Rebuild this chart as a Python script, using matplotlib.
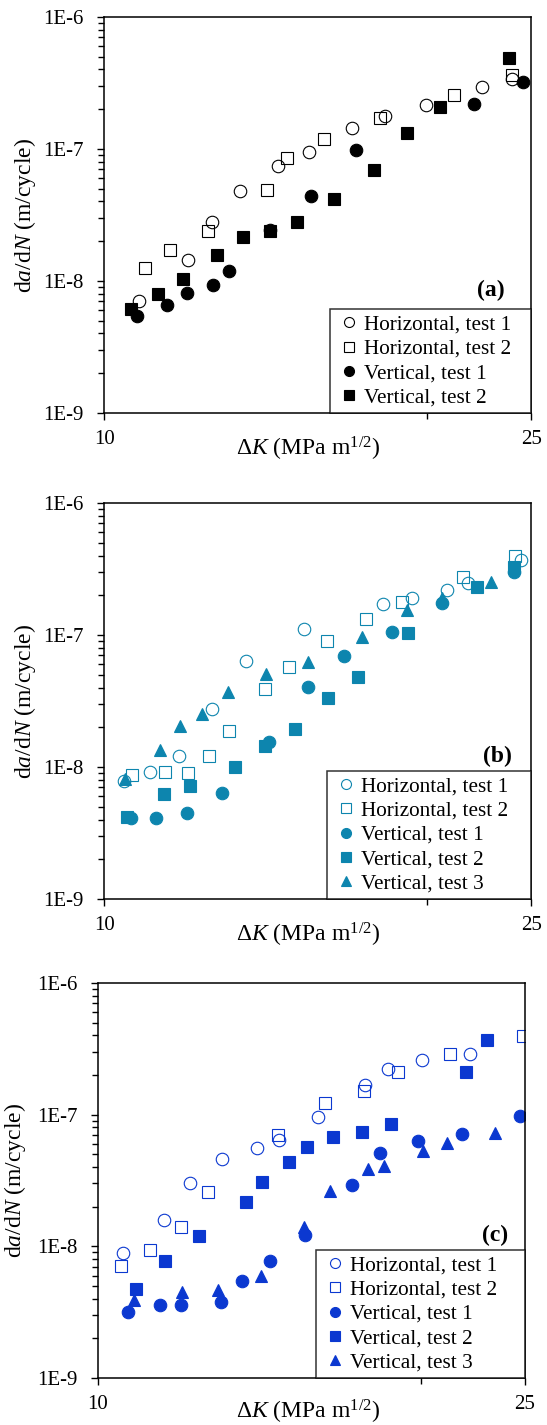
import matplotlib
matplotlib.use("Agg")
import matplotlib.pyplot as plt
from matplotlib.lines import Line2D
from matplotlib.ticker import FixedLocator, NullFormatter, LogLocator

plt.rcParams["font.family"] = ["Liberation Serif", "DejaVu Serif"]
plt.rcParams["mathtext.fontset"] = "custom"
plt.rcParams["mathtext.rm"] = "Liberation Serif"
plt.rcParams["mathtext.it"] = "Liberation Serif:italic"
plt.rcParams["mathtext.bf"] = "Liberation Serif:bold"

# Panel (a) - black
a_h1_dk = [10.76, 11.97, 12.59, 13.37, 14.52, 15.52, 17.00, 18.24, 19.94, 22.46, 23.96]
a_h1_rate = [7.1e-9, 1.43e-8, 2.82e-8, 4.77e-8, 7.38e-8, 9.47e-8, 1.45e-7, 1.77e-7, 2.16e-7, 2.95e-7, 3.37e-7]
a_h2_dk = [10.90, 11.50, 12.49, 14.17, 14.80, 16.03, 18.05, 21.19, 23.99]
a_h2_rate = [1.25e-8, 1.73e-8, 2.41e-8, 4.85e-8, 8.53e-8, 1.18e-7, 1.71e-7, 2.58e-7, 3.61e-7]
a_v1_dk = [10.72, 11.44, 11.93, 12.61, 13.07, 14.25, 15.59, 17.15, 22.08, 24.57]
a_v1_rate = [5.47e-9, 6.59e-9, 8.08e-9, 9.34e-9, 1.18e-8, 2.45e-8, 4.44e-8, 9.86e-8, 2.20e-7, 3.21e-7]
a_v2_dk = [10.58, 11.21, 11.84, 12.73, 13.46, 14.25, 15.13, 16.37, 17.83, 19.16, 20.53, 23.81]
a_v2_rate = [6.14e-9, 7.99e-9, 1.04e-8, 1.56e-8, 2.15e-8, 2.37e-8, 2.82e-8, 4.19e-8, 6.88e-8, 1.33e-7, 2.08e-7, 4.89e-7]

# Panel (b) - teal
b_h1_dk = [10.42, 11.02, 11.73, 12.59, 13.56, 15.33, 18.16, 19.33, 20.87, 21.80, 24.43]
b_h1_rate = [7.85e-9, 9.13e-9, 1.22e-8, 2.74e-8, 6.41e-8, 1.11e-7, 1.71e-7, 1.90e-7, 2.20e-7, 2.47e-7, 3.72e-7]
b_h2_dk = [10.60, 11.39, 11.97, 12.52, 13.05, 14.11, 14.85, 16.12, 17.51, 18.95, 21.60, 24.12]
b_h2_rate = [8.71e-9, 9.24e-9, 9.08e-9, 1.22e-8, 1.89e-8, 3.93e-8, 5.68e-8, 9.04e-8, 1.32e-7, 1.78e-7, 2.75e-7, 3.94e-7]
b_v1_dk = [10.58, 11.17, 11.94, 12.86, 14.22, 15.48, 16.71, 18.53, 20.62, 24.10]
b_v1_rate = [4.09e-9, 4.09e-9, 4.46e-9, 6.40e-9, 1.56e-8, 4.03e-8, 6.96e-8, 1.05e-7, 1.74e-7, 3.00e-7]
b_v2_dk = [10.50, 11.36, 12.02, 13.22, 14.11, 15.05, 16.17, 17.22, 19.19, 22.23, 24.06]
b_v2_rate = [4.16e-9, 6.25e-9, 7.19e-9, 9.96e-9, 1.45e-8, 1.95e-8, 3.36e-8, 4.85e-8, 1.03e-7, 2.31e-7, 3.27e-7]
b_v3_dk = [10.44, 11.27, 11.77, 12.33, 13.03, 14.14, 15.48, 17.37, 19.13, 20.65, 22.94]
b_v3_rate = [8.08e-9, 1.35e-8, 2.05e-8, 2.53e-8, 3.69e-8, 5.05e-8, 6.23e-8, 9.58e-8, 1.54e-7, 1.90e-7, 2.50e-7]

# Panel (c) - blue
c_h1_dk = [10.55, 11.53, 12.18, 13.05, 14.06, 14.73, 16.03, 17.74, 18.65, 20.03, 22.24]
c_h1_rate = [8.87e-9, 1.59e-8, 3.05e-8, 4.63e-8, 5.54e-8, 6.41e-8, 9.64e-8, 1.67e-7, 2.24e-7, 2.59e-7, 2.88e-7]
c_h2_dk = [10.50, 11.17, 11.94, 12.66, 14.71, 16.27, 17.71, 19.02, 21.28, 24.91]
c_h2_rate = [7.03e-9, 9.40e-9, 1.39e-8, 2.60e-8, 7.00e-8, 1.23e-7, 1.52e-7, 2.11e-7, 2.91e-7, 3.94e-7]
c_v1_dk = [10.66, 11.42, 11.95, 13.01, 13.62, 14.47, 15.59, 17.25, 18.32, 19.85, 21.85, 24.72]
c_v1_rate = [3.15e-9, 3.60e-9, 3.60e-9, 3.75e-9, 5.41e-9, 7.80e-9, 1.22e-8, 2.92e-8, 5.08e-8, 6.30e-8, 7.12e-8, 9.75e-8]
c_v2_dk = [10.84, 11.54, 12.43, 13.73, 14.23, 15.05, 15.66, 16.54, 17.62, 18.76, 22.01, 23.04]
c_v2_rate = [4.73e-9, 7.76e-9, 1.19e-8, 2.17e-8, 3.06e-8, 4.39e-8, 5.71e-8, 6.80e-8, 7.33e-8, 8.43e-8, 2.09e-7, 3.72e-7]
c_v3_dk = [10.80, 11.97, 12.95, 14.18, 15.56, 16.45, 17.83, 18.49, 20.07, 21.16, 23.46]
c_v3_rate = [3.93e-9, 4.46e-9, 4.68e-9, 5.90e-9, 1.40e-8, 2.65e-8, 3.84e-8, 4.07e-8, 5.29e-8, 6.05e-8, 7.20e-8]

labels = ["Horizontal, test 1", "Horizontal, test 2", "Vertical, test 1",
          "Vertical, test 2", "Vertical, test 3"]
markers = ["o", "s", "o", "s", "^"]
filled = [False, False, True, True, True]

FS = 15      # tick labels
LEG_FS = 15.3
LFS = 17     # axis labels
MS = 9

fig = plt.figure(figsize=(5.47, 14.25), dpi=100)


def draw_panel(rect, series, color, tag, tag_pos, leg_x, ylab_x, xlab_pos):
    ax = fig.add_axes(rect)
    for i, (dk, rate) in enumerate(series):
        ax.plot(dk, rate, ls="none", marker=markers[i], ms=MS,
                mfc=color if filled[i] else "none", mec=color, mew=0.8)
    ax.set_xscale("log")
    ax.set_yscale("log")
    ax.set_xlim(10, 25)
    ax.set_ylim(1e-9, 1e-6)
    ax.set_xticks([10, 25])
    ax.set_xticklabels(["10", "25"])
    ax.xaxis.set_minor_locator(FixedLocator([20]))
    ax.xaxis.set_minor_formatter(NullFormatter())
    ax.set_yticks([1e-9, 1e-8, 1e-7, 1e-6])
    ax.set_yticklabels(["1E-9", "1E-8", "1E-7", "1E-6"])
    ax.yaxis.set_minor_locator(LogLocator(base=10, subs=range(2, 10)))
    ax.yaxis.set_minor_formatter(NullFormatter())
    ax.tick_params(axis="both", which="both", direction="out", labelsize=FS,
                   width=1.0, color="black")
    ax.tick_params(axis="both", which="major", length=5)
    ax.tick_params(axis="both", which="minor", length=4)
    ax.tick_params(axis="x", pad=7)
    ax.tick_params(axis="y", pad=10)
    for sp in ax.spines.values():
        sp.set_linewidth(1.1)
        sp.set_color("black")

    ax.set_ylabel(r"d$\it{a}$/d$\it{N}$ (m/cycle)", fontsize=LFS)
    ax.yaxis.set_label_coords(ylab_x, 0.5)
    ax.set_xlabel(r"$\Delta\it{K}$ (MPa m$^{1/2}$)", fontsize=LFS)
    ax.xaxis.set_label_coords(xlab_pos[0], xlab_pos[1])

    ax.text(tag_pos[0], tag_pos[1], tag, transform=ax.transAxes, fontsize=17,
            fontweight="bold", ha="center", va="center")

    handles = []
    for i in range(len(series)):
        handles.append(Line2D([], [], ls="none", marker=markers[i], ms=MS,
                              mfc=color if filled[i] else "none", mec=color, mew=0.8))
    leg = ax.legend(handles, labels[:len(series)], loc="lower left",
                    bbox_to_anchor=(leg_x, 0, 1 - leg_x, 0.3), mode="expand",
                    borderaxespad=0, borderpad=0.27, labelspacing=0.2,
                    handlelength=1.3, handletextpad=0.05, markerscale=0.8,
                    fontsize=LEG_FS, frameon=True, fancybox=False)
    leg.get_frame().set_edgecolor("black")
    leg.get_frame().set_linewidth(1.1)
    return ax


draw_panel([0.1910, 0.7102, 0.7806, 0.2779],
           [(a_h1_dk, a_h1_rate), (a_h2_dk, a_h2_rate), (a_v1_dk, a_v1_rate), (a_v2_dk, a_v2_rate)],
           "black", "(a)", (0.904, 0.309), 0.528, -0.155, (0.477, -0.055))

draw_panel([0.1910, 0.3691, 0.7806, 0.2779],
           [(b_h1_dk, b_h1_rate), (b_h2_dk, b_h2_rate), (b_v1_dk, b_v1_rate),
            (b_v2_dk, b_v2_rate), (b_v3_dk, b_v3_rate)],
           "#0d85ae", "(b)", (0.921, 0.361), 0.520, -0.155, (0.477, -0.055))

draw_panel([0.1792, 0.0330, 0.7806, 0.2772],
           [(c_h1_dk, c_h1_rate), (c_h2_dk, c_h2_rate), (c_v1_dk, c_v1_rate),
            (c_v2_dk, c_v2_rate), (c_v3_dk, c_v3_rate)],
           "#0b38d0", "(c)", (0.930, 0.362), 0.510, -0.163, (0.492, -0.05))

fig.savefig("out.png", dpi=100)
